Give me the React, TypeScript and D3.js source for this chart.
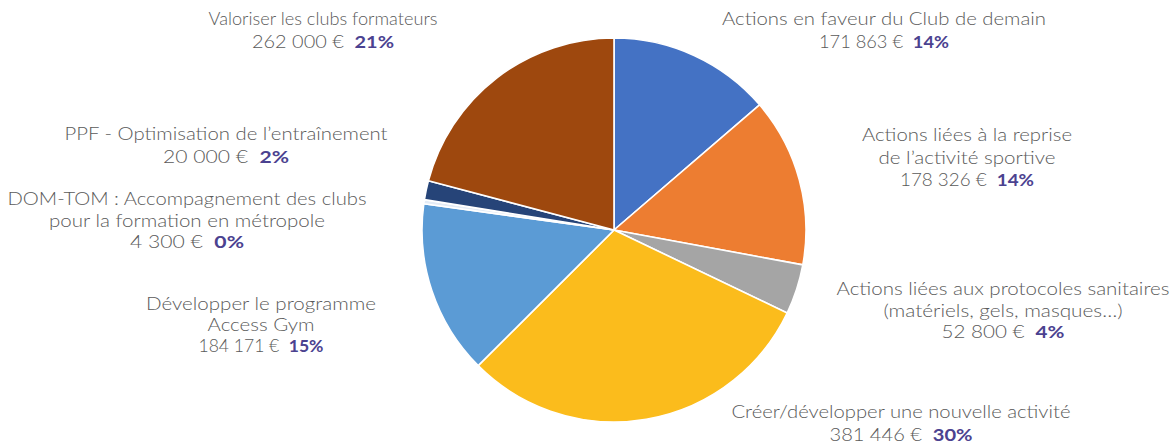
import React from "react";
import * as d3 from "d3";

const categories = [
  "Actions en faveur du Club de demain",
  "Actions liées à la reprise de l’activité sportive",
  "Actions liées aux protocoles sanitaires (matériels, gels, masques…)",
  "Créer/développer une nouvelle activité",
  "Développer le programme Access Gym",
  "DOM-TOM : Accompagnement des clubs pour la formation en métropole",
  "PPF - Optimisation de l’entraînement",
  "Valoriser les clubs formateurs",
];
const amounts = [171863, 178326, 52800, 381446, 184171, 4300, 20000, 262000];
const amountLabels = ["171 863 €", "178 326 €", "52 800 €", "381 446 €", "184 171 €", "4 300 €", "20 000 €", "262 000 €"];
const percentLabels = ["14%", "14%", "4%", "30%", "15%", "0%", "2%", "21%"];
const labelLines = [
  ["Actions en faveur du Club de demain"],
  ["Actions liées à la reprise", "de l’activité sportive"],
  ["Actions liées aux protocoles sanitaires", "(matériels, gels, masques…)"],
  ["Créer/développer une nouvelle activité"],
  ["Développer le programme", "Access Gym"],
  ["DOM-TOM : Accompagnement des clubs", "pour la formation en métropole"],
  ["PPF - Optimisation de l’entraînement"],
  ["Valoriser les clubs formateurs"],
];
const colors = ["#4472C4", "#ED7D31", "#A5A5A5", "#FBBC1C", "#5B9BD5", "#E4ECF6", "#264478", "#9E480E"];

// layout: label center x, first baseline y, line gap
const labelPos: [number, number, number][] = [
  [884, 25, 23],
  [967, 141, 22.5],
  [1003, 295, 21.5],
  [901, 418, 23],
  [261, 310, 21],
  [187, 205, 21.5],
  [226, 140, 23],
  [323, 25, 23],
];
// layout: rendered widths of each text line (name lines then value line)
const lineWidths: number[][] = [
  [324, 130],
  [210, 177, 134],
  [333, 239, 123],
  [339, 143],
  [230, 107, 125],
  [359, 276, 114],
  [323, 126],
  [229, 142],
];

const W = 1176;
const H = 448;
const cx = 614;
const cy = 230;
const R = 192;

export default function App() {
  const pie = d3.pie<number>().sort(null).value((d) => d)(amounts);
  const arc = d3.arc<d3.PieArcDatum<number>>().innerRadius(0).outerRadius(R);
  const font = "Lato, 'Open Sans', sans-serif";
  return (
    <svg width={W} height={H} style={{ position: "absolute", left: 0, top: 0, background: "#fff" }}>
      <rect width={W} height={H} fill="#fff" />
      <g transform={`translate(${cx},${cy})`}>
        {pie.map((p, i) => (
          <path key={i} d={arc(p) || ""} fill={colors[i]} stroke="#fff" strokeWidth={1.6} strokeLinejoin="round" />
        ))}
      </g>
      {categories.map((c, i) => {
        const [x, y, gap] = labelPos[i];
        const lines = labelLines[i];
        const widths = lineWidths[i];
        return (
          <g key={c} fontFamily={font} fontSize={17} textAnchor="middle">
            {lines.map((l, j) => (
              <text
                key={j}
                x={x}
                y={y + j * gap}
                fill="#5a5a5a"
                fontWeight={300}
                textLength={widths[j]}
                lengthAdjust="spacingAndGlyphs"
              >
                {l}
              </text>
            ))}
            <text
              x={x}
              y={y + lines.length * gap}
              textLength={widths[lines.length]}
              lengthAdjust="spacingAndGlyphs"
            >
              <tspan fill="#5a5a5a" fontWeight={300}>{amountLabels[i] + "\u00a0\u00a0"}</tspan>
              <tspan fill="#4B4290" fontWeight={700}>{percentLabels[i]}</tspan>
            </text>
          </g>
        );
      })}
    </svg>
  );
}
